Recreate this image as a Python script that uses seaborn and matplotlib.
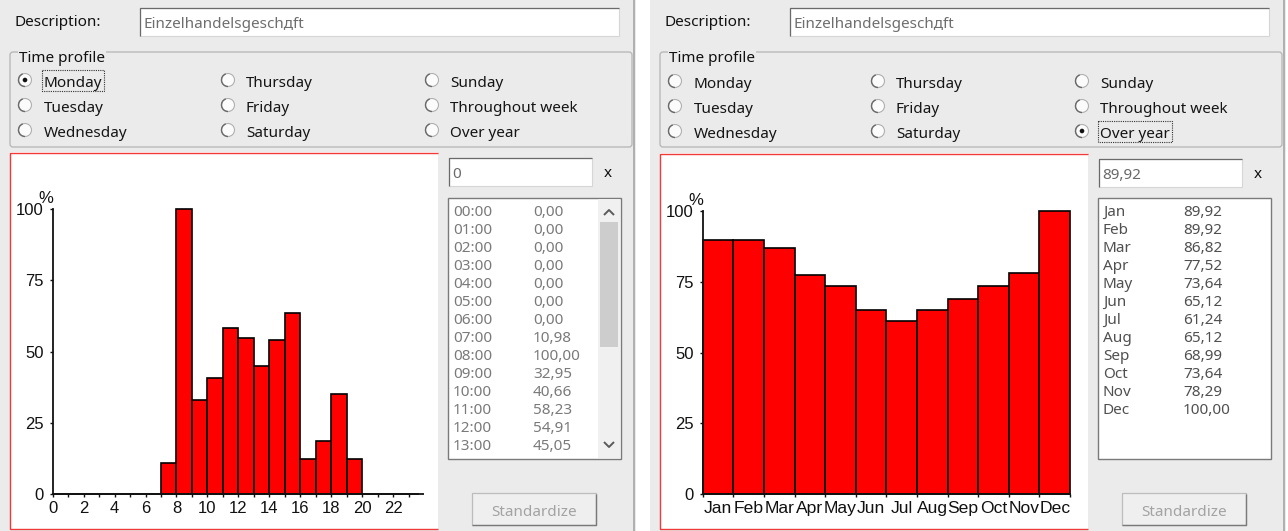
import numpy as np
import pandas as pd
import matplotlib
matplotlib.use("Agg")
import matplotlib.pyplot as plt
import seaborn as sns
from matplotlib.patches import Rectangle, Circle, Arc, FancyBboxPatch
from matplotlib.transforms import Bbox

# ---------------- data ----------------
hours = list(range(24))
hour_labels = [f"{h:02d}:00" for h in hours]
hourly_values = [0.00, 0.00, 0.00, 0.00, 0.00, 0.00, 0.00, 10.98, 100.00, 32.95,
                 40.66, 58.23, 54.91, 45.05, 53.96, 63.74, 12.31, 18.68, 35.16,
                 12.31, 0.00, 0.00, 0.00, 0.00]
months = ["Jan", "Feb", "Mar", "Apr", "May", "Jun", "Jul", "Aug", "Sep", "Oct", "Nov", "Dec"]
monthly_values = [89.92, 89.92, 86.82, 77.52, 73.64, 65.12, 61.24, 65.12, 68.99, 73.64, 78.29, 100.00]
y_ticks = [0, 25, 50, 75, 100]
hour_ticks = list(range(0, 23, 2))
description = "Einzelhandelsgeschдft"
profile_columns = [["Monday", "Tuesday", "Wednesday"],
                   ["Thursday", "Friday", "Saturday"],
                   ["Sunday", "Throughout week", "Over year"]]
entry_values = ["0", "89,92"]
selected = ["Monday", "Over year"]

W, H = 1288, 531
sns.set_theme(style="white")
UI_FONT = ["Noto Sans", "DejaVu Sans"]
CH_FONT = ["Liberation Sans", "DejaVu Sans"]
plt.rcParams["font.family"] = UI_FONT

fig = plt.figure(figsize=(W / 100, H / 100), dpi=100)
fig.patch.set_facecolor("#ffffff")
ui = fig.add_axes([0, 0, 1, 1])
ui.set_xlim(0, W)
ui.set_ylim(H, 0)
ui.axis("off")
renderer = fig.canvas.get_renderer()

BG = "#ebebeb"
UI_SIZE = 11


def rect(x0, y0, x1, y1, **kw):
    p = Rectangle((x0, y0), x1 - x0, y1 - y0, **kw)
    ui.add_patch(p)
    return p


def line(xs, ys, **kw):
    ui.plot(xs, ys, solid_capstyle="butt", **kw)


def txt(x, y, s, size=UI_SIZE, color="#151515", ha="left", **kw):
    return ui.text(x, y, s, fontsize=size, color=color, ha=ha, va="baseline",
                   family=UI_FONT, **kw)


def sunken_box(x0, y0, x1, y1):
    rect(x0, y0, x1, y1, facecolor="white", edgecolor="#d6d6d6", lw=0.8)
    line([x0, x0, x1], [y1, y0, y0], color="#6a6a6a", lw=0.9)


def panel(dx, dy, list_labels, list_vals, list_color, entry, sel, scroll):
    # background
    rect(dx, 0, dx + 636, H, facecolor=BG, edgecolor="none")
    line([dx + 634.5, dx + 634.5], [0, H], color="#a5a5a5", lw=1.2)
    # description
    txt(dx + 15, 26, "Description:", color="#111111")
    sunken_box(dx + 140, 8, dx + 619, 36)
    txt(dx + 144, 28, description, color="#6e6e6e")
    # group box
    gb = FancyBboxPatch((dx + 10, 52), 622, 95,
                        boxstyle="round,pad=0,rounding_size=3",
                        facecolor="none", edgecolor="#b9b9b9", lw=1.0)
    ui.add_patch(gb)
    txt(dx + 19, 62, "Time profile", color="#111111",
        bbox=dict(facecolor=BG, edgecolor="none", pad=0.5))
    col_circle = [25, 228, 432]
    col_text = [43, 245, 449]
    row_y = [80, 105, 130]
    for ci, col in enumerate(profile_columns):
        for ri, lab in enumerate(col):
            cx, cy = dx + col_circle[ci], row_y[ri] + dy
            ui.add_patch(Circle((cx, cy), 6.5, facecolor="#fbfbfb",
                                edgecolor="#b0b0b0", lw=0.8))
            ui.add_patch(Arc((cx, cy), 13, 13, theta1=90, theta2=250,
                             color="#6a6a6a", lw=1.0))
            t = txt(dx + col_text[ci] + 1, cy + 6.8, lab)
            if lab == sel:
                ui.add_patch(Circle((cx, cy), 2.3, facecolor="#111111",
                                    edgecolor="none"))
                bb = t.get_window_extent(renderer=renderer)
                pts = ui.transData.inverted().transform([[bb.x0, bb.y0], [bb.x1, bb.y1]])
                rect(pts[0, 0] - 2, cy - 10.5, pts[1, 0] + 2, cy + 10.5,
                     facecolor="none", edgecolor="#333333", lw=0.8,
                     linestyle=(0, (1, 1)))
    # chart area (white with red border on left/top/bottom)
    rect(dx + 10, 152 + dy, dx + 438, 529, facecolor="white", edgecolor="none")
    line([dx + 438, dx + 10.5, dx + 10.5, dx + 438],
         [152.5 + dy, 152.5 + dy, 529, 529], color="#f03a3a", lw=1.0)
    # entry box
    sunken_box(dx + 449, 158 + dy, dx + 592, 186 + dy)
    txt(dx + 452, 178 + dy, entry, color="#6a6a6a")
    txt(dx + 608, 177 + dy, "x", color="#111111", ha="center", weight="bold")
    # list box
    rect(dx + 448, 198, dx + 621, 459, facecolor="white",
         edgecolor="#7a7a7a", lw=1.0)
    inner_right = dx + 597 if scroll else dx + 620
    disp = ui.transData.transform([[dx + 449, 199], [inner_right, 458]])
    clip = Bbox.from_extents(disp[:, 0].min(), disp[:, 1].min(),
                             disp[:, 0].max(), disp[:, 1].max())
    for i, (a, b) in enumerate(zip(list_labels, list_vals)):
        yb = 210 + 18 * i + 5.5
        for xx, s in [(dx + 453, a), (dx + 533, f"{b:.2f}".replace(".", ","))]:
            t = txt(xx, yb, s, color=list_color)
            t.set_clip_box(clip)
            t.set_clip_on(True)
    if scroll:
        rect(dx + 598, 199, dx + 620, 458, facecolor="#f0f0f0", edgecolor="none")
        rect(dx + 600, 222, dx + 618, 347, facecolor="#cdcdcd", edgecolor="none")
        line([dx + 604, dx + 609, dx + 614], [215, 210, 215], color="#5a5a5a", lw=1.4)
        line([dx + 604, dx + 609, dx + 614], [442, 447, 442], color="#5a5a5a", lw=1.4)
    # button
    rect(dx + 472, 493, dx + 596, 525, facecolor="#efefef", edgecolor="#bcbcbc", lw=0.9)
    line([dx + 472.5, dx + 596, dx + 596], [525, 525, 493.5], color="#7a7a7a", lw=1.0)
    txt(dx + 534, 516, "Standardize", color="#a3a3a3", ha="center")


panel(0, 0, hour_labels[:15], hourly_values[:15], "#7a7a7a", entry_values[0], selected[0], True)
panel(650, 1, months, monthly_values, "#505050", entry_values[1], selected[1], False)
rect(636, 0, 650, H, facecolor="white", edgecolor="none")
rect(1286, 0, W, H, facecolor="white", edgecolor="none")


# ---------------- charts ----------------
CH_SIZE = 12


def frac(x_left, y_bottom, width, height):
    return [x_left / W, (H - y_bottom) / H, width / W, height / H]


def style_chart(ax):
    ax.set_facecolor("none")
    for s in ["top", "right"]:
        ax.spines[s].set_visible(False)
    for s in ["left", "bottom"]:
        ax.spines[s].set_color("#111111")
        ax.spines[s].set_linewidth(1.3)
    ax.set_ylim(0, 100)
    ax.set_yticks(y_ticks)
    ax.set_xlabel("")
    ax.set_ylabel("")
    ax.tick_params(axis="y", direction="out", length=2.5, width=1.0, pad=4,
                   colors="#111111", labelsize=CH_SIZE, left=True)
    for lab in ax.get_yticklabels():
        lab.set_family(CH_FONT)
    for p in ax.patches:
        p.set_clip_on(False)
    ax.annotate("%", xy=(0, 1), xycoords="axes fraction", xytext=(0.3, 4.5),
                textcoords="offset points", ha="right", va="baseline",
                fontsize=CH_SIZE, color="#111111", family=CH_FONT)


hourly_df = pd.DataFrame({"hour": hours, "value": hourly_values})
monthly_df = pd.DataFrame({"month": months, "value": monthly_values})

# hourly chart
ax1 = fig.add_axes(frac(52.7, 494, 365.6, 284.7))
sns.histplot(data=hourly_df, x="hour", weights="value", bins=24, binrange=(0, 24),
             ax=ax1, color="#ff0000", edgecolor="#000000", linewidth=1.2, alpha=1)
ax1.set_xlim(0, 23.63)
ax1.set_xticks(hour_ticks)
ax1.set_xticks(range(0, 24), minor=True)
ax1.tick_params(axis="x", which="both", direction="out", length=2.5, width=1.0,
                pad=2.5, colors="#111111", labelsize=CH_SIZE, bottom=True)
for lab in ax1.get_xticklabels():
    lab.set_family(CH_FONT)
style_chart(ax1)

# monthly chart
ax2 = fig.add_axes(frac(702.7, 494.3, 367.3, 283.3))
sns.barplot(data=monthly_df, x="month", y="value", order=months, ax=ax2,
            color="#ff0000", saturation=1, width=1, edgecolor="#000000", linewidth=1.2)
ax2.set_xlim(-0.5, 11.5)
ax2.set_xticks(range(len(months)))
ax2.set_xticklabels(months)
ax2.set_xticks(np.arange(-0.5, 12, 1), minor=True)
ax2.tick_params(axis="x", which="major", length=0, pad=4.5, colors="#111111",
                labelsize=12.6)
ax2.tick_params(axis="x", which="minor", direction="out", length=2.5, width=1.0,
                colors="#111111", bottom=True)
for lab in ax2.get_xticklabels():
    lab.set_family(CH_FONT)
style_chart(ax2)

fig.savefig("out.png", dpi=100, facecolor=fig.get_facecolor())
